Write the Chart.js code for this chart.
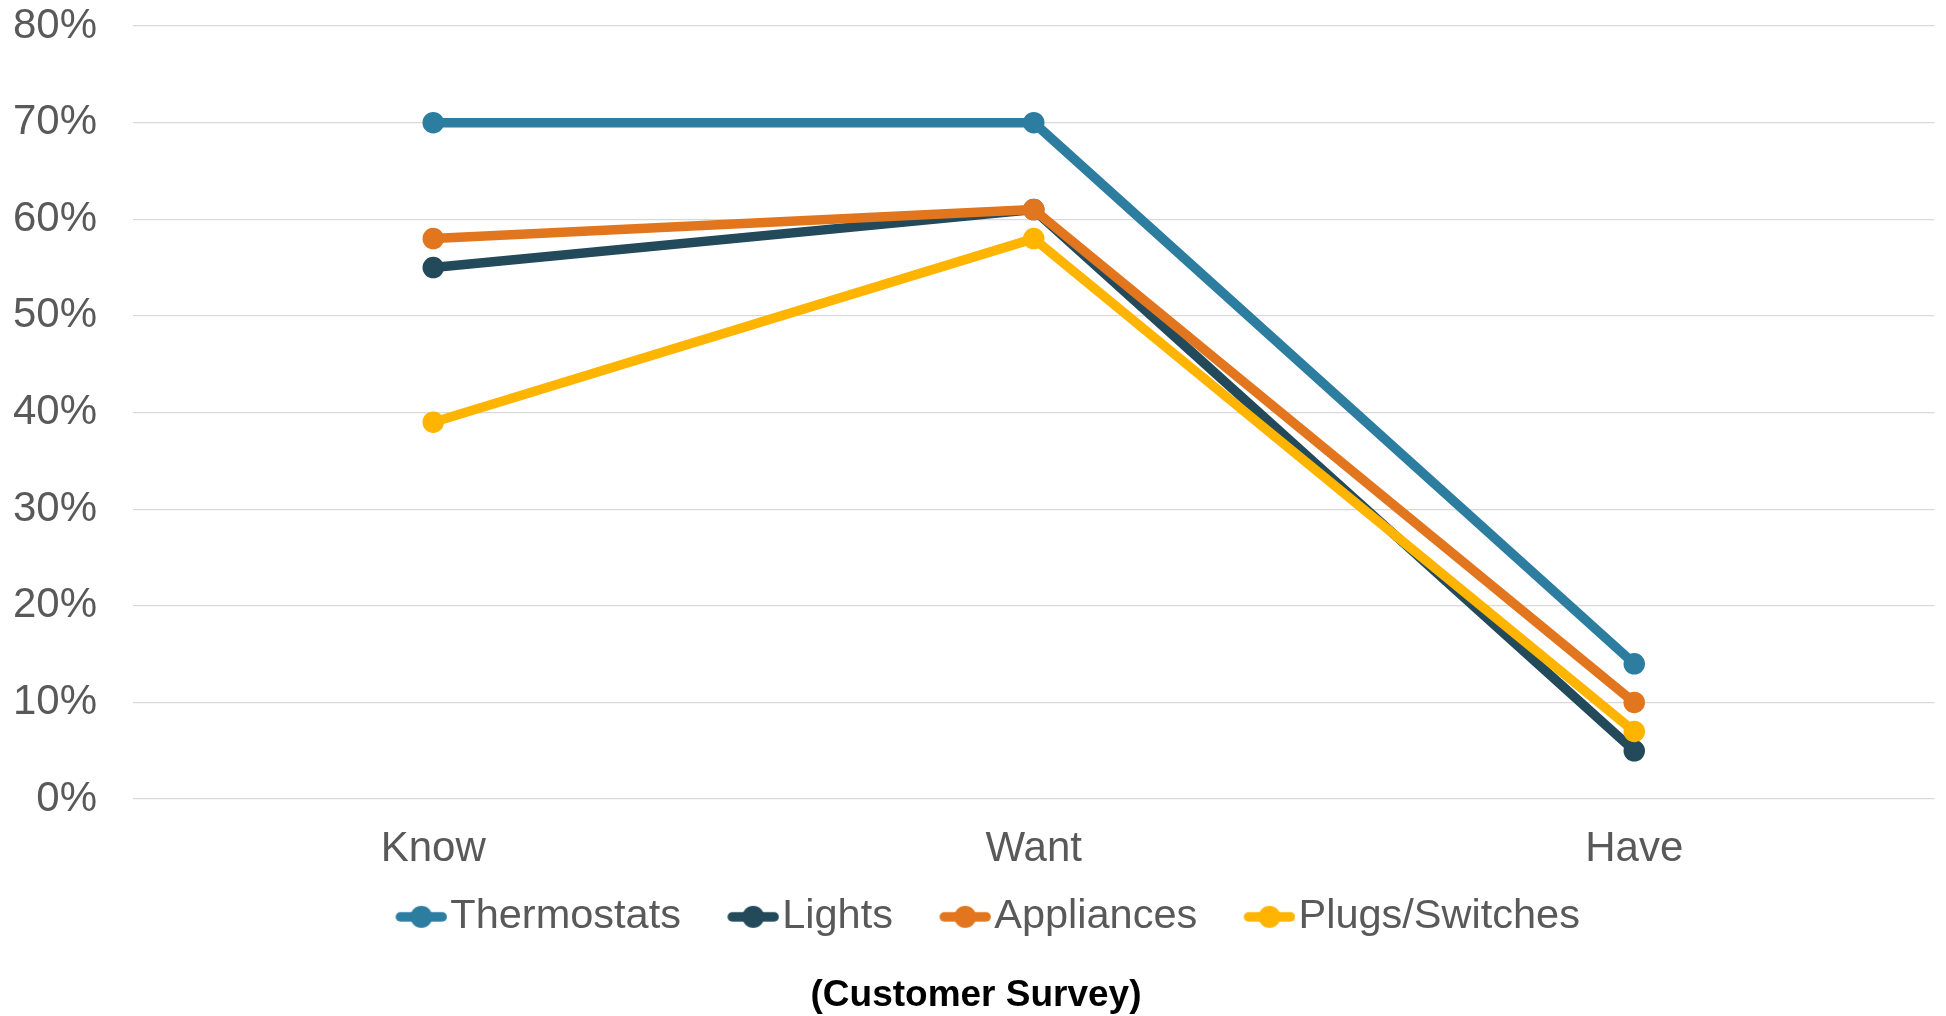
<!DOCTYPE html>
<html>
<head>
<meta charset="utf-8">
<script src="https://cdn.jsdelivr.net/npm/chart.js@4.4.0/dist/chart.umd.min.js"></script>
<style>
  html, body { margin: 0; padding: 0; background: #fff; }
  #wrap { width: 1946px; height: 1016px; }
</style>
</head>
<body>
<div id="wrap"><canvas id="surveyChart"></canvas></div>
<script>
const stages = ['Know', 'Want', 'Have'];
const thermostats = [70, 70, 14];
const lights = [55, 61, 5];
const appliances = [58, 61, 10];
const plugsSwitches = [39, 58, 7];
const yTicks = [0, 10, 20, 30, 40, 50, 60, 70, 80];

const FONT = "'Liberation Sans', Arial, sans-serif";
const GREY = '#595959';

const colors = {
    thermostats: '#2D7DA1',
    lights: '#234A5A',
    appliances: '#E2761F',
    plugs: '#FFB400'
};

function makeSeries(label, values, color, order) {
    return {
        label: label,
        data: values,
        borderColor: color,
        backgroundColor: color,
        borderWidth: 9.5,
        pointRadius: 10,
        pointBorderWidth: 1.5,
        pointBorderColor: color,
        pointBackgroundColor: color,
        borderJoinStyle: 'round',
        tension: 0,
        fill: false,
        order: order
    };
}

// small line + dot marker for the legend, pushed to the right so it sits close to the text
function legendMarker(color) {
    const c = document.createElement('canvas');
    c.width = 93;
    c.height = 24;
    const g = c.getContext('2d');
    g.strokeStyle = color;
    g.fillStyle = color;
    g.lineWidth = 9.5;
    g.lineCap = 'round';
    g.beginPath();
    g.moveTo(93 - 52 + 5, 12);
    g.lineTo(93 - 5, 12);
    g.stroke();
    g.beginPath();
    g.arc(93 - 26, 12, 11, 0, Math.PI * 2);
    g.fill();
    return c;
}

const ctx = document.getElementById('surveyChart').getContext('2d');
new Chart(ctx, {
    type: 'line',
    data: {
        labels: stages,
        datasets: [
            makeSeries('Thermostats', thermostats, colors.thermostats, 3),
            makeSeries('Lights', lights, colors.lights, 2),
            makeSeries('Appliances', appliances, colors.appliances, 1),
            makeSeries('Plugs/Switches', plugsSwitches, colors.plugs, 0)
        ]
    },
    options: {
        responsive: true,
        maintainAspectRatio: false,
        animation: false,
        layout: { padding: { left: 13, right: 7, top: 0, bottom: 0 } },
        scales: {
            x: {
                offset: true,
                grid: { display: false, drawTicks: false },
                border: { display: false },
                ticks: { color: GREY, font: { family: FONT, size: 42 }, padding: 25 },
                afterFit: (axis) => { axis.height = 74; }
            },
            y: {
                min: 0,
                max: 80,
                afterBuildTicks: (axis) => { axis.ticks = yTicks.map(v => ({ value: v })); },
                grid: { color: '#D9D9D9', lineWidth: 1.3, drawTicks: false },
                border: { display: false },
                ticks: {
                    color: GREY,
                    font: { family: FONT, size: 42 },
                    padding: 36,
                    callback: (v) => v + '%'
                },
                afterFit: (axis) => {
                    axis.width = 120;
                    axis.paddingTop = 26;
                    axis.paddingBottom = 25;
                }
            }
        },
        plugins: {
            legend: {
                position: 'bottom',
                labels: {
                    color: GREY,
                    font: { family: FONT, size: 41.5 },
                    usePointStyle: true,
                    pointStyleWidth: 57.5,
                    padding: 23,
                    generateLabels: (chart) => {
                        const items = Chart.defaults.plugins.legend.labels.generateLabels(chart);
                        items.sort((a, b) => a.datasetIndex - b.datasetIndex);
                        items.forEach(it => {
                            it.pointStyle = legendMarker(chart.data.datasets[it.datasetIndex].borderColor);
                        });
                        return items;
                    }
                }
            },
            title: {
                display: true,
                position: 'bottom',
                text: '(Customer Survey)',
                color: '#000',
                font: { family: FONT, size: 37, weight: 'bold' },
                padding: { top: 26, bottom: -2 }
            },
            tooltip: { enabled: false }
        }
    }
});
</script>
</body>
</html>
